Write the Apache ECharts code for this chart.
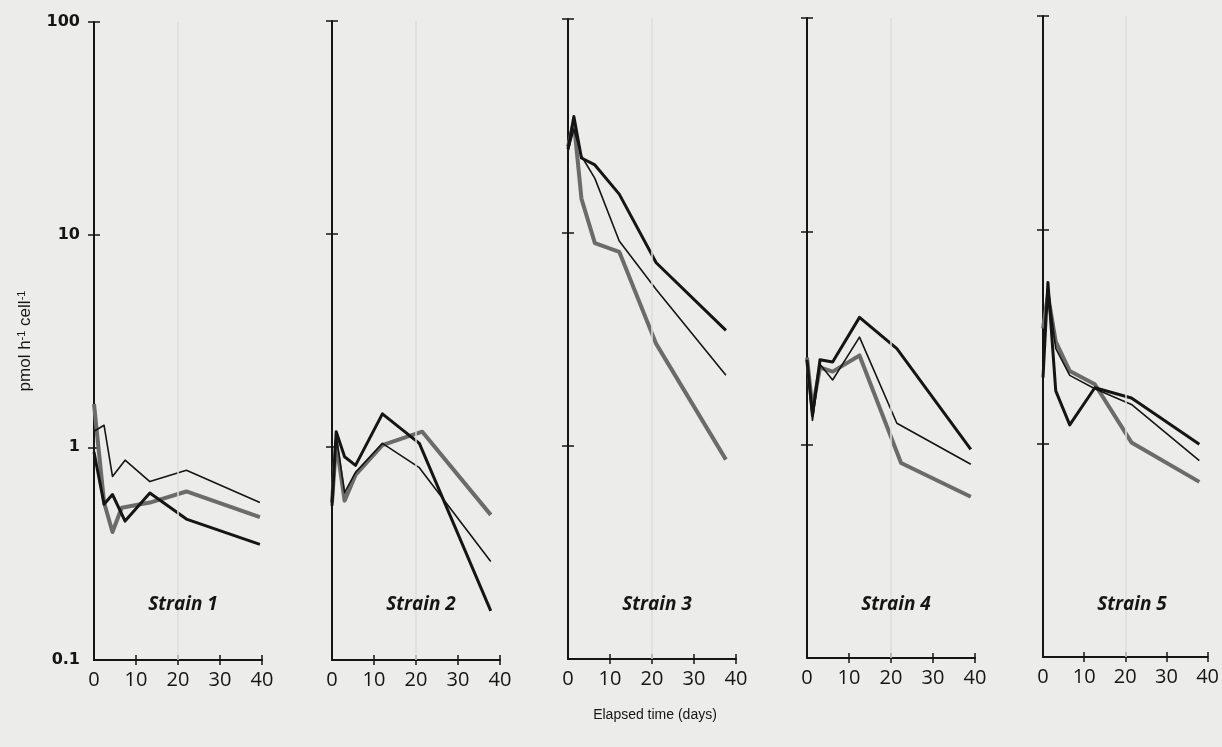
<!DOCTYPE html>
<html>
<head>
<meta charset="utf-8">
<script src="https://cdn.jsdelivr.net/npm/echarts@6/dist/echarts.min.js"></script>
<style>
  html, body { margin: 0; padding: 0; background: #ececea; }
  #chart { width: 1222px; height: 747px; }
</style>
</head>
<body>
<div id="chart"></div>
<script>
// values: [elapsed days, pmol h-1 cell-1]
const strainNames = ['Strain 1', 'Strain 2', 'Strain 3', 'Strain 4', 'Strain 5']
const xTickValues = [10, 20, 30, 40]
const yTickValues = [1, 10, 100]

// strain 1
const s1Thick = [[0, 0.95], [2.4, 0.54], [4.4, 0.6], [7.4, 0.45], [13.3, 0.61], [22, 0.46], [39.5, 0.35]]
const s1Thin = [[0, 1.19], [2.4, 1.27], [4.4, 0.73], [7.4, 0.87], [13.3, 0.69], [22, 0.78], [39.5, 0.55]]
const s1Gray = [[0, 1.6], [2.4, 0.55], [4.4, 0.4], [6.6, 0.52], [13.3, 0.55], [22, 0.62], [39.5, 0.47]]
// strain 2
const s2Thick = [[0, 0.53], [1, 1.18], [3, 0.9], [5.6, 0.82], [12, 1.43], [20.8, 1.04], [37.8, 0.17]]
const s2Thin = [[0, 0.6], [1, 1.13], [3, 0.61], [5.6, 0.76], [12, 1.04], [20.8, 0.8], [37.8, 0.29]]
const s2Gray = [[0, 0.55], [1, 1.05], [3, 0.56], [5.6, 0.74], [12, 1.02], [21.5, 1.18], [37.8, 0.48]]
// strain 3
const s3Thick = [[0, 24.5], [1.4, 34.9], [3.2, 22.3], [6.4, 20.7], [12.2, 15.1], [21, 7.2], [37.6, 3.47]]
const s3Thin = [[0, 24], [1.4, 30.5], [3.2, 22.8], [6.4, 17.9], [12.2, 9.1], [21, 5.4], [37.6, 2.14]]
const s3Gray = [[0, 25.2], [1.4, 32.8], [3.2, 14.4], [6.4, 8.9], [12.2, 8.1], [21, 3.0], [37.6, 0.86]]
// strain 4
const s4Thick = [[0, 2.5], [1.3, 1.37], [3.1, 2.5], [6.1, 2.44], [12.5, 3.95], [21.4, 2.82], [39, 0.95]]
const s4Thin = [[0, 2.5], [1.3, 1.3], [3.1, 2.38], [6.1, 2.01], [12.5, 3.19], [21.4, 1.26], [39, 0.81]]
const s4Gray = [[0, 2.56], [1.3, 1.47], [3.1, 2.3], [6.1, 2.2], [12.5, 2.62], [22.4, 0.82], [39, 0.57]]
// strain 5
const s5Thick = [[0, 2.03], [1.2, 5.66], [3.1, 1.76], [6.5, 1.22], [12.6, 1.82], [21.5, 1.63], [38, 0.99]]
const s5Thin = [[0, 2.78], [1.2, 5.4], [3.1, 2.78], [6.5, 2.08], [12.6, 1.8], [21.5, 1.52], [38, 0.83]]
const s5Gray = [[0, 3.45], [1.2, 4.95], [3.1, 2.99], [6.5, 2.18], [12.6, 1.89], [21.5, 1.01], [38, 0.66]]

const panels = [
  [s1Thick, s1Thin, s1Gray],
  [s2Thick, s2Thin, s2Gray],
  [s3Thick, s3Thin, s3Gray],
  [s4Thick, s4Thin, s4Gray],
  [s5Thick, s5Thin, s5Gray]
]

// layout (the scan is slightly tilted)
const gridLefts = [94, 332, 568, 807, 1043]
const gridTops = [22, 21, 19, 18, 16]
const gridBottoms = [660, 660, 659, 658, 657]
const gridWidth = 168

const ink = '#151515'
const axisLine = { show: true, lineStyle: { color: ink, width: 2 } }
const tickStyle = { color: ink, width: 1.5 }

const grid = [], xAxis = [], yAxis = [], series = [], title = []

panels.forEach((lines, i) => {
  grid.push({
    left: gridLefts[i], top: gridTops[i],
    width: gridWidth, height: gridBottoms[i] - gridTops[i],
    containLabel: false
  })
  // outer x axis with labels, inner copy for the crossing ticks
  xAxis.push({
    gridIndex: i, type: 'value', position: 'bottom', min: 0, max: 40, interval: 10,
    axisLine: axisLine,
    axisTick: { show: true, length: 5, lineStyle: tickStyle, customValues: xTickValues },
    axisLabel: { color: ink, fontFamily: 'Open Sans', fontSize: 20, margin: 10 },
    splitLine: { show: false }
  })
  xAxis.push({
    gridIndex: i, type: 'value', position: 'bottom', min: 0, max: 40, interval: 10,
    axisLine: { show: false },
    axisTick: { show: true, inside: true, length: 5, lineStyle: tickStyle, customValues: xTickValues },
    axisLabel: { show: false },
    splitLine: { show: false }
  })
  yAxis.push({
    gridIndex: i, type: 'log', position: 'left', logBase: 10, min: 0.1, max: 100,
    axisLine: axisLine,
    axisTick: { show: true, length: 6, lineStyle: tickStyle, customValues: yTickValues },
    axisLabel: {
      show: i === 0, color: ink, fontFamily: 'DejaVu Sans', fontWeight: 'bold',
      fontSize: 16, margin: 14
    },
    splitLine: { show: false },
    name: i === 0 ? 'pmol h{s|-1} cell{s|-1}' : '',
    nameLocation: 'middle',
    nameGap: 60,
    nameRotate: 90,
    nameTextStyle: {
      color: ink, fontFamily: 'Liberation Sans', fontSize: 17,
      rich: { s: { fontFamily: 'Liberation Sans', fontSize: 11, verticalAlign: 'top', padding: [0, 0, 7, 0] } }
    }
  })
  yAxis.push({
    gridIndex: i, type: 'log', position: 'left', logBase: 10, min: 0.1, max: 100,
    axisLine: { show: false },
    axisTick: { show: true, inside: true, length: 6, lineStyle: tickStyle, customValues: yTickValues },
    axisLabel: { show: false },
    splitLine: { show: false }
  })

  const [thick, thin, gray] = lines
  series.push({
    type: 'line', xAxisIndex: 2 * i, yAxisIndex: 2 * i, data: gray,
    symbol: 'none', z: 2,
    lineStyle: { color: '#6b6b6b', width: 4, join: 'round' },
    markLine: {
      silent: true, symbol: 'none', label: { show: false },
      lineStyle: { color: '#dededc', width: 1.5, type: 'solid' },
      data: [{ xAxis: 20 }]
    }
  })
  series.push({
    type: 'line', xAxisIndex: 2 * i, yAxisIndex: 2 * i, data: thin,
    symbol: 'none', z: 3,
    lineStyle: { color: ink, width: 1.6, join: 'round' }
  })
  series.push({
    type: 'line', xAxisIndex: 2 * i, yAxisIndex: 2 * i, data: thick,
    symbol: 'none', z: 4,
    lineStyle: { color: ink, width: 3, join: 'round' }
  })

  title.push({
    text: strainNames[i],
    left: gridLefts[i] + 84, top: 590, textAlign: 'center',
    textStyle: { color: ink, fontFamily: 'Open Sans', fontStyle: 'italic', fontWeight: 'bold', fontSize: 19 }
  })
})

title.push({
  text: 'Elapsed time (days)',
  left: 650, top: 703, textAlign: 'center',
  textStyle: { color: ink, fontFamily: 'Liberation Sans', fontWeight: 'normal', fontSize: 14 }
})

const chart = echarts.init(document.getElementById('chart'), undefined, { renderer: 'canvas' })
chart.setOption({
  backgroundColor: '#ececea',
  animation: false,
  title: title,
  grid: grid,
  xAxis: xAxis,
  yAxis: yAxis,
  series: series
})
</script>
</body>
</html>
